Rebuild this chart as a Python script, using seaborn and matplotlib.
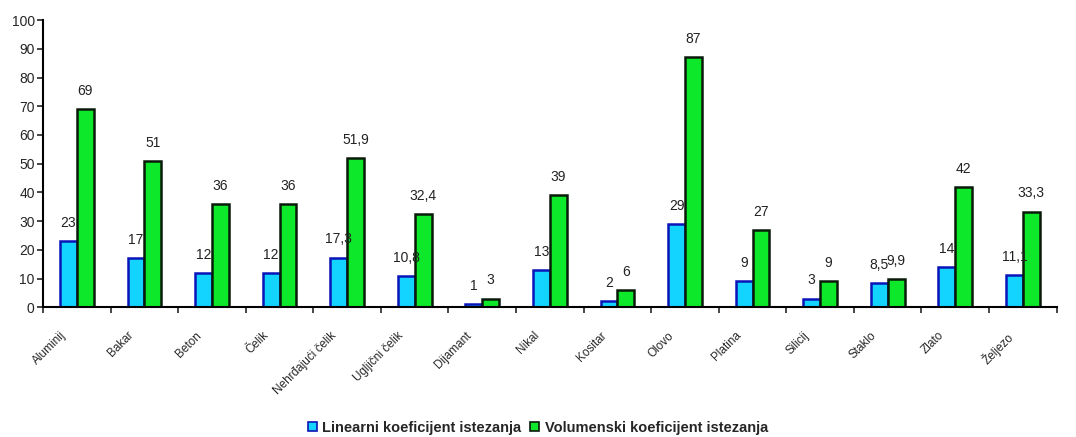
import pandas as pd
import seaborn as sns
import matplotlib.pyplot as plt
import matplotlib.transforms as mtransforms
from matplotlib.patches import Patch

# ==========================================
# data
# ==========================================
materials = ['Aluminij', 'Bakar', 'Beton', 'Čelik', 'Nehrđajući čelik', 'Ugljični čelik',
             'Dijamant', 'Nikal', 'Kositar', 'Olovo', 'Platina', 'Silicij', 'Staklo',
             'Zlato', 'Željezo']
linearni = [23, 17, 12, 12, 17.3, 10.8, 1, 13, 2, 29, 9, 3, 8.5, 14, 11.1]
volumenski = [69, 51, 36, 36, 51.9, 32.4, 3, 39, 6, 87, 27, 9, 9.9, 42, 33.3]
series_names = ['Linearni koeficijent istezanja', 'Volumenski koeficijent istezanja']
y_ticks = list(range(0, 101, 10))

df = pd.DataFrame({
    'Materijal': materials * 2,
    'Vrijednost': linearni + volumenski,
    'Serija': [series_names[0]] * len(materials) + [series_names[1]] * len(materials),
})

sns.set_theme(style="white")
plt.rcParams['font.family'] = ['Liberation Sans', 'DejaVu Sans']

fill_colors = ['#12D4FF', '#0EE82A']
edge_colors = ['#0A14B8', '#0A1A0A']

fig = plt.figure(figsize=(10.76, 4.37), dpi=100)
ax = fig.add_axes([0.040, 0.297, 0.942, 0.657])

sns.barplot(data=df, x='Materijal', y='Vrijednost', hue='Serija', order=materials,
            hue_order=series_names, palette=fill_colors, saturation=1, width=0.5, gap=0,
            errorbar=None, ax=ax, legend=False, linewidth=1.8)

for container, ec in zip(ax.containers, edge_colors):
    for bar in container:
        bar.set_edgecolor(ec)

# value labels (comma decimal)
for container, vals in zip(ax.containers, [linearni, volumenski]):
    labels = [f'{v:g}'.replace('.', ',') for v in vals]
    ax.bar_label(container, labels=labels, fontsize=10, padding=8, color='#222222')

ax.set_ylim(0, 100)
ax.set_yticks(y_ticks)
ax.set_xlim(-0.5, len(materials) - 0.5)
ax.set_xlabel('')
ax.set_ylabel('')

# ticks at category boundaries, labels at centres
ax.set_xticks([i - 0.5 for i in range(len(materials) + 1)], minor=True)
ax.tick_params(axis='x', which='major', length=0, pad=16)
ax.tick_params(axis='x', which='minor', length=4, width=1.2, direction='out', bottom=True)
ax.tick_params(axis='y', length=4, width=1.2, direction='out', left=True, labelsize=10, pad=2)
ax.set_xticklabels(materials, rotation=45, ha='right', rotation_mode='anchor', fontsize=8.5)
shift = mtransforms.ScaledTranslation(-17 / 100, 0, fig.dpi_scale_trans)
for lbl in ax.get_xticklabels():
    lbl.set_transform(lbl.get_transform() + shift)

for side in ['top', 'right']:
    ax.spines[side].set_visible(False)
for side in ['left', 'bottom']:
    ax.spines[side].set_color('black')
    ax.spines[side].set_linewidth(1.5)

handles = [Patch(facecolor=fc, edgecolor=ec, linewidth=1.2) for fc, ec in zip(fill_colors, edge_colors)]
fig.legend(handles, series_names, loc='lower center', bbox_to_anchor=(0.5, -0.025), ncol=2,
           frameon=False, handlelength=0.6, handleheight=0.6, handletextpad=0.4, columnspacing=0.6,
           prop={'weight': 'bold', 'size': 10.5})

fig.savefig('out.png', dpi=100)
